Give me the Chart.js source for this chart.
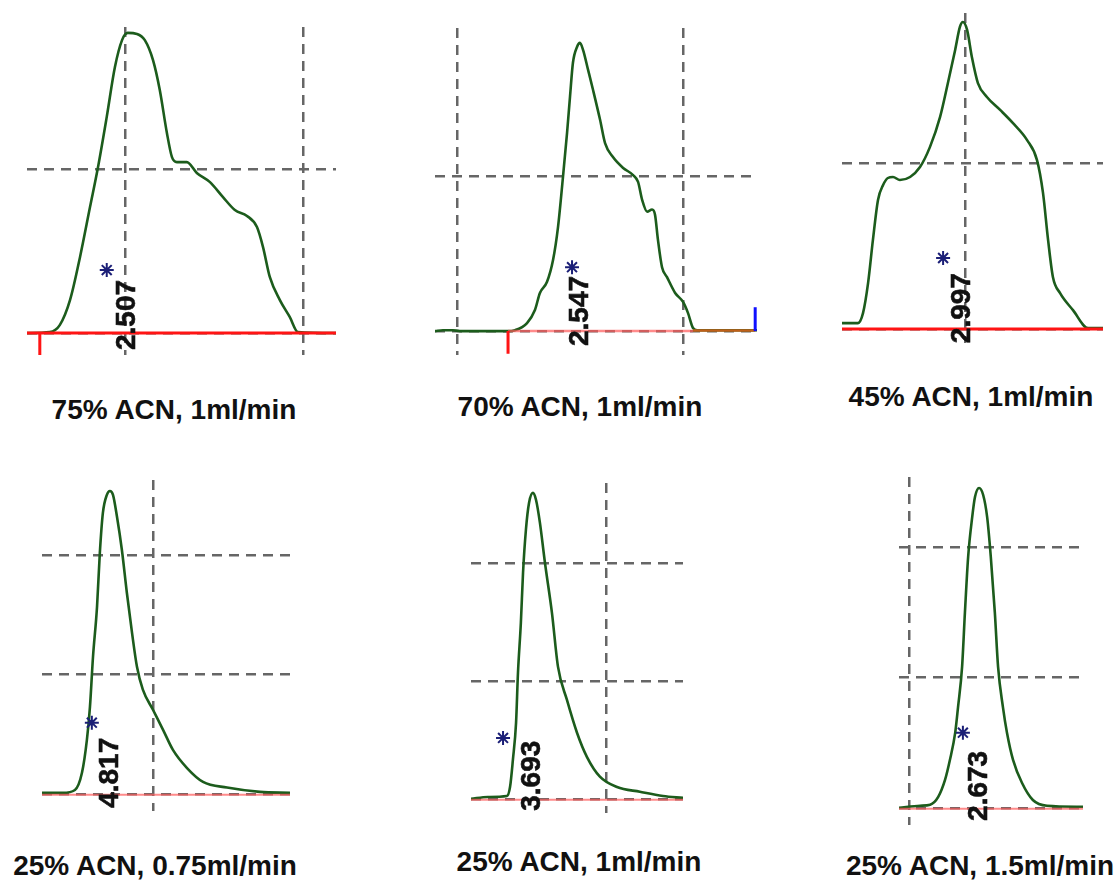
<!DOCTYPE html>
<html>
<head>
<meta charset="utf-8">
<title>HPLC chromatograms</title>
<script src="https://cdn.jsdelivr.net/npm/chart.js@4.4.1/dist/chart.umd.min.js"></script>
<style>
  body { margin: 0; background: #fff; }
  #page { position: relative; width: 1120px; height: 880px; overflow: hidden; }
  .panel { position: absolute; }
  .caption {
    position: absolute;
    transform: translate(-50%, -50%);
    font: bold 28px "Liberation Sans", Arial, sans-serif;
    color: #111;
    white-space: nowrap;
  }
</style>
</head>
<body>
<div id="page"></div>
<script>
// Retention time in min, signal in AU
const captions = ['75% ACN, 1ml/min', '70% ACN, 1ml/min', '45% ACN, 1ml/min',
  '25% ACN, 0.75ml/min', '25% ACN, 1ml/min', '25% ACN, 1.5ml/min'];
const retentionLabels = ['2.507', '2.547', '2.997', '4.817', '3.693', '2.673'];

const acn75Time = [2.225, 2.289, 2.317, 2.346, 2.374, 2.402, 2.424, 2.449, 2.472, 2.492, 2.508, 2.534, 2.556, 2.579, 2.598, 2.618, 2.632, 2.646, 2.674, 2.702, 2.739, 2.775, 2.809, 2.843, 2.871, 2.888, 2.907, 2.935, 2.963, 2.986, 3.093];
const acn75Abs = [0, 0.003, 0.024, 0.101, 0.232, 0.384, 0.503, 0.659, 0.811, 0.893, 0.915, 0.912, 0.893, 0.832, 0.741, 0.610, 0.537, 0.521, 0.521, 0.488, 0.460, 0.415, 0.375, 0.357, 0.323, 0.262, 0.171, 0.101, 0.049, 0.003, 0];
const acn75GridT = [2.5, 3.0];
const acn75GridA = [0, 0.5];

const acn70Time = [1.903, 1.938, 1.982, 2.013, 2.221, 2.257, 2.310, 2.345, 2.367, 2.398, 2.425, 2.447, 2.469, 2.487, 2.500, 2.513, 2.531, 2.544, 2.558, 2.580, 2.602, 2.633, 2.655, 2.690, 2.735, 2.779, 2.801, 2.819, 2.841, 2.863, 2.876, 2.889, 2.907, 2.929, 2.965, 3.000, 3.022, 3.044, 3.062, 3.327];
const acn70Abs = [0, 0.003, 0.003, 0, 0, 0.003, 0.026, 0.068, 0.123, 0.158, 0.229, 0.335, 0.497, 0.639, 0.755, 0.865, 0.916, 0.929, 0.906, 0.842, 0.777, 0.681, 0.606, 0.561, 0.526, 0.503, 0.481, 0.423, 0.385, 0.392, 0.375, 0.294, 0.206, 0.174, 0.123, 0.094, 0.058, 0.010, 0.003, 0.003];
const acn70GridT = [2.0, 3.0];
const acn70GridA = [0, 0.5];

const acn45Time = [2.590, 2.643, 2.660, 2.677, 2.693, 2.710, 2.727, 2.743, 2.760, 2.783, 2.817, 2.850, 2.883, 2.917, 2.943, 2.967, 2.983, 2.993, 3.007, 3.023, 3.043, 3.073, 3.117, 3.160, 3.207, 3.240, 3.260, 3.277, 3.293, 3.317, 3.360, 3.410, 3.460];
const acn45Abs = [0.018, 0.018, 0.048, 0.139, 0.268, 0.389, 0.434, 0.455, 0.458, 0.449, 0.458, 0.488, 0.548, 0.639, 0.741, 0.840, 0.910, 0.925, 0.901, 0.819, 0.741, 0.699, 0.660, 0.620, 0.569, 0.509, 0.410, 0.268, 0.157, 0.108, 0.057, 0.003, 0.003];
const acn45GridT = [3.0];
const acn45GridA = [0, 0.5];

const flow075Time = [4.528, 4.617, 4.668, 4.698, 4.719, 4.732, 4.745, 4.762, 4.774, 4.787, 4.804, 4.817, 4.830, 4.847, 4.868, 4.889, 4.911, 4.932, 4.957, 5.000, 5.043, 5.085, 5.145, 5.213, 5.315, 5.455, 5.583];
const flow075Abs = [0.002, 0.002, 0.008, 0.044, 0.113, 0.182, 0.287, 0.391, 0.504, 0.588, 0.626, 0.634, 0.626, 0.580, 0.510, 0.421, 0.337, 0.266, 0.218, 0.176, 0.134, 0.092, 0.054, 0.025, 0.013, 0.004, 0.002];
const flow075GridT = [5.0];
const flow075GridA = [0, 0.25, 0.5];

const flow1Time = [3.440, 3.510, 3.589, 3.602, 3.614, 3.627, 3.635, 3.647, 3.656, 3.668, 3.681, 3.697, 3.710, 3.726, 3.747, 3.776, 3.801, 3.838, 3.880, 3.921, 3.975, 4.046, 4.141, 4.237, 4.320];
const flow1Abs = [0, 0.004, 0.006, 0.025, 0.083, 0.161, 0.267, 0.373, 0.479, 0.570, 0.627, 0.648, 0.633, 0.585, 0.500, 0.394, 0.280, 0.210, 0.140, 0.089, 0.047, 0.025, 0.015, 0.006, 0.002];
const flow1GridT = [4.0];
const flow1GridA = [0, 0.25, 0.5];

const flow15Time = [2.475, 2.527, 2.552, 2.572, 2.589, 2.601, 2.614, 2.621, 2.631, 2.638, 2.646, 2.656, 2.663, 2.673, 2.683, 2.693, 2.702, 2.712, 2.720, 2.732, 2.742, 2.757, 2.779, 2.806, 2.841, 2.930];
const flow15Abs = [0, 0.004, 0.006, 0.021, 0.054, 0.092, 0.144, 0.193, 0.270, 0.374, 0.481, 0.557, 0.596, 0.613, 0.600, 0.557, 0.481, 0.374, 0.270, 0.193, 0.144, 0.092, 0.048, 0.015, 0.004, 0.002];
const flow15GridT = [2.5];
const flow15GridA = [0, 0.25, 0.5];

// asterisk position [time, abs] and height of the rotated retention label
const asteriskTime = [2.449, 2.509, 2.927, 4.740, 3.573, 2.633];
const asteriskAbs = [0.192, 0.206, 0.214, 0.149, 0.129, 0.144];
const labelAbs = [0.055, 0.065, 0.063, 0.044, 0.049, 0.042];

// integration marks
const acn75StartMark = 2.261;
const acn70StartMark = 2.226;
const acn70EndMark = 3.319;
const acn70BaselineSplit = 3.044;

const TRACE = '#1c5c1c';
const GRID = '#666666';
const RED = '#ff1414';
const PALE_RED = 'rgba(255, 90, 90, 0.7)';

const panels = [
  { time: acn75Time, abs: acn75Abs, gridT: acn75GridT, gridA: acn75GridA,
    xr: [2.225, 3.093], yr: [-0.067, 0.933], box: [27, 27, 309, 328], rt: 2.507,
    caption: [174, 410] },
  { time: acn70Time, abs: acn70Abs, gridT: acn70GridT, gridA: acn70GridA,
    xr: [1.903, 3.327], yr: [-0.077, 0.977], box: [435, 28, 322, 327], rt: 2.547,
    caption: [580, 407] },
  { time: acn45Time, abs: acn45Abs, gridT: acn45GridT, gridA: acn45GridA,
    xr: [2.590, 3.460], yr: [-0.042, 0.952], box: [842, 13, 261, 330], rt: 2.992,
    caption: [971, 397] },
  { time: flow075Time, abs: flow075Abs, gridT: flow075GridT, gridA: flow075GridA,
    xr: [4.528, 5.583], yr: [-0.036, 0.657], box: [42, 480, 248, 331], rt: 4.817,
    caption: [155, 866] },
  { time: flow1Time, abs: flow1Abs, gridT: flow1GridT, gridA: flow1GridA,
    xr: [3.440, 4.320], yr: [-0.030, 0.669], box: [471, 483, 212, 330], rt: 3.693,
    caption: [579, 862] },
  { time: flow15Time, abs: flow15Abs, gridT: flow15GridT, gridA: flow15GridA,
    xr: [2.475, 2.930], yr: [-0.033, 0.634], box: [899, 477, 184, 348], rt: 2.673,
    caption: [980, 866] },
];

// rotated retention-time text, placed in data units
const rtLabelPlugin = {
  id: 'rtLabel',
  afterDatasetsDraw(chart, args, opts) {
    const { ctx, scales } = chart;
    const x = scales.x.getPixelForValue(opts.time);
    const y = scales.y.getPixelForValue(opts.abs);
    ctx.save();
    ctx.translate(x, y);
    ctx.rotate(-Math.PI / 2);
    ctx.font = 'bold 28px "Liberation Sans", Arial, sans-serif';
    ctx.fillStyle = '#111';
    ctx.strokeStyle = '#111';
    ctx.lineWidth = 0.6;
    ctx.textAlign = 'center';
    ctx.textBaseline = 'middle';
    ctx.fillText(opts.text, 0, 0);
    ctx.strokeText(opts.text, 0, 0);
    ctx.restore();
  },
};

function seg(x0, y0, x1, y1, color, width) {
  return {
    data: [{ x: x0, y: y0 }, { x: x1, y: y1 }],
    borderColor: color,
    borderWidth: width,
    pointRadius: 0,
  };
}

function extras(i, p) {
  const sets = [];
  if (i === 0) {
    sets.push(seg(p.xr[0], 0, p.xr[1], 0, RED, 3));
    sets.push(seg(acn75StartMark, 0, acn75StartMark, p.yr[0], RED, 3));
  } else if (i === 1) {
    sets.push(seg(acn70StartMark, 0, acn70StartMark, p.yr[0] + 0.004, RED, 3));
    sets.push(seg(acn70EndMark, 0, acn70EndMark, 0.077, '#1010ff', 3));
    sets.push(seg(acn70StartMark, 0, acn70BaselineSplit, 0, PALE_RED, 2.5));
    sets.push(seg(acn70BaselineSplit, 0.002, acn70EndMark, 0.002, '#c0601a', 2.5));
  } else if (i === 2) {
    sets.push(seg(p.xr[0], 0, p.xr[1], 0, RED, 3));
  } else {
    sets.push(seg(p.xr[0], -0.002, p.xr[1], -0.002, PALE_RED, 2));
  }
  return sets;
}

function makePanel(p, i) {
  const page = document.getElementById('page');
  const [left, top, w, h] = p.box;
  const wrap = document.createElement('div');
  wrap.className = 'panel';
  wrap.style.left = left + 'px';
  wrap.style.top = top + 'px';
  const canvas = document.createElement('canvas');
  canvas.width = w;
  canvas.height = h;
  wrap.appendChild(canvas);
  page.appendChild(wrap);

  const cap = document.createElement('div');
  cap.className = 'caption';
  cap.style.left = p.caption[0] + 'px';
  cap.style.top = p.caption[1] + 'px';
  cap.textContent = captions[i];
  page.appendChild(cap);

  const gridOpts = { color: GRID, lineWidth: 2.5, drawTicks: false };
  const borderOpts = { display: false, dash: [10, 7] };

  new Chart(canvas, {
    type: 'line',
    data: {
      datasets: [
        {
          type: 'scatter',
          data: [{ x: asteriskTime[i], y: asteriskAbs[i] }],
          pointStyle: 'star',
          pointRadius: 7,
          borderColor: '#1b1f77',
          borderWidth: 2,
        },
        ...extras(i, p),
        {
          data: p.time.map((t, k) => ({ x: t, y: p.abs[k] })),
          borderColor: TRACE,
          borderWidth: 2.6,
          pointRadius: 0,
          cubicInterpolationMode: 'monotone',
        },
      ],
    },
    options: {
      responsive: false,
      animation: false,
      events: [],
      layout: { padding: 0, autoPadding: false },
      plugins: {
        legend: { display: false },
        tooltip: { enabled: false },
        rtLabel: { time: p.rt, abs: labelAbs[i], text: retentionLabels[i] },
      },
      scales: {
        x: {
          type: 'linear',
          min: p.xr[0],
          max: p.xr[1],
          ticks: { display: false },
          grid: gridOpts,
          border: borderOpts,
          afterBuildTicks: axis => { axis.ticks = p.gridT.map(v => ({ value: v })); },
        },
        y: {
          type: 'linear',
          min: p.yr[0],
          max: p.yr[1],
          ticks: { display: false },
          grid: gridOpts,
          border: borderOpts,
          afterBuildTicks: axis => { axis.ticks = p.gridA.map(v => ({ value: v })); },
        },
      },
    },
    plugins: [rtLabelPlugin],
  });
}

panels.forEach(makePanel);
</script>
</body>
</html>
